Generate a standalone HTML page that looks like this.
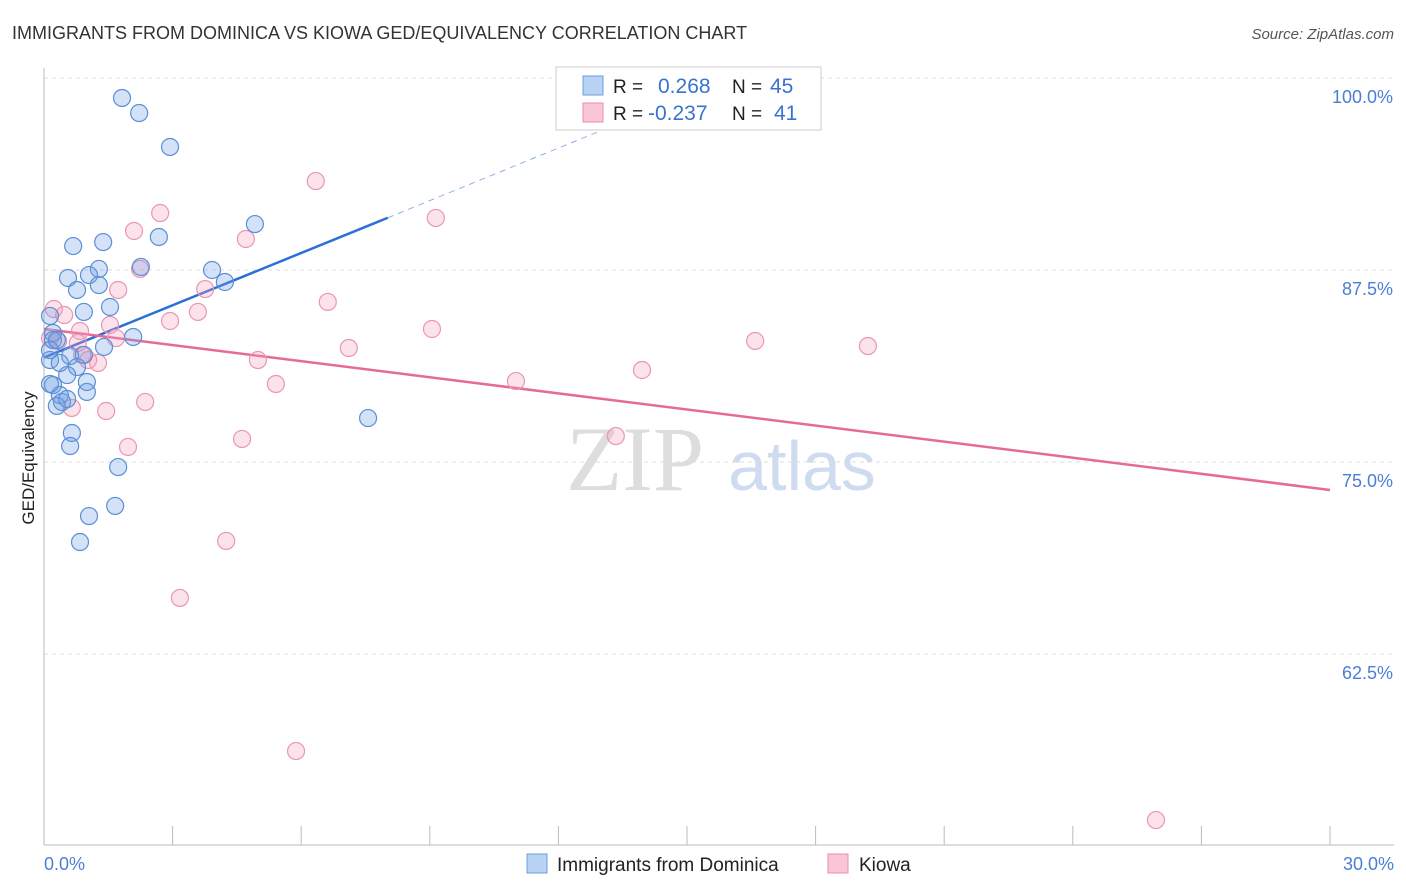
<!DOCTYPE html>
<html><head><meta charset="utf-8"><style>
body{margin:0;background:#fff;font-family:"Liberation Sans",sans-serif}
svg{display:block}
</style></head><body>
<svg id="c" width="1406" height="892" xmlns="http://www.w3.org/2000/svg">
<text x="12" y="39" font-size="18" fill="#333">IMMIGRANTS FROM DOMINICA VS KIOWA GED/EQUIVALENCY CORRELATION CHART</text>
<text x="1394" y="39" font-size="15" fill="#555" font-style="italic" text-anchor="end">Source: ZipAtlas.com</text>
<text x="0" y="0" transform="translate(34,458) rotate(-90)" font-size="17" fill="#222" text-anchor="middle">GED/Equivalency</text>
<g><text x="635" y="490" font-size="92" font-family="Liberation Serif,serif" fill="#ddd" text-anchor="middle">ZIP</text><text x="802" y="490" font-size="70" fill="#cfdcf0" text-anchor="middle">atlas</text></g>
<g id="grid"></g><g id="axes"></g><g id="trend"></g><g id="pts"></g>
<g>
<rect x="556" y="67" width="265" height="63" fill="#fff" stroke="#ccc"/>
<rect x="583" y="76" width="20" height="19" fill="#b9d3f5" stroke="#6c9ddf"/>
<rect x="583" y="103" width="20" height="19" fill="#f9c6d6" stroke="#e98eae"/>
<text x="613" y="93" font-size="19" fill="#222">R =</text><text x="658" y="93" font-size="21" fill="#3a72d0">0.268</text>
<text x="732" y="93" font-size="19" fill="#222">N =</text><text x="770" y="93" font-size="21" fill="#3a72d0">45</text>
<text x="613" y="120" font-size="19" fill="#222">R =</text><text x="648" y="120" font-size="21" fill="#3a72d0">-0.237</text>
<text x="732" y="120" font-size="19" fill="#222">N =</text><text x="774" y="120" font-size="21" fill="#3a72d0">41</text>
</g>
<g>
<rect x="527" y="854" width="20" height="19" fill="#b9d3f5" stroke="#6c9ddf"/>
<text x="557" y="871" font-size="19" fill="#222">Immigrants from Dominica</text>
<rect x="828" y="854" width="20" height="19" fill="#f9c6d6" stroke="#e98eae"/>
<text x="859" y="871" font-size="19" fill="#222">Kiowa</text>
</g>
</svg>
<script>
const yTicks=[100,87.5,75,62.5];
const yTickLabels=["100.0%","87.5%","75.0%","62.5%"];
const blueX=[1.82,2.22,2.94,4.92,2.68,1.38,0.68,2.26,3.92,4.22,1.28,1.05,0.56,0.77,1.28,1.54,0.93,0.14,0.21,2.08,0.21,1.40,0.93,0.61,0.14,0.77,0.54,1.00,0.21,1.00,0.37,0.42,0.30,0.54,7.56,0.65,0.61,1.73,1.66,1.05,0.84,0.14,0.30,0.37,0.14];
const blueY=[98.70,97.72,95.51,90.49,89.65,89.32,89.06,87.70,87.50,86.72,87.57,87.17,86.98,86.20,86.52,85.09,84.77,84.51,83.40,83.14,82.94,82.49,81.97,81.90,81.64,81.18,80.66,80.21,80.01,79.56,79.36,78.91,78.65,79.10,77.86,76.89,76.04,74.67,72.14,71.48,69.79,82.29,82.94,81.45,80.08];
const pinkX=[16.19,6.34,2.71,9.14,2.10,4.71,2.24,1.73,3.76,6.62,0.23,3.59,0.47,2.94,1.54,9.05,0.84,1.68,0.14,16.59,19.22,7.11,0.79,4.99,1.26,1.03,13.95,11.01,5.41,2.36,1.45,0.65,4.62,1.96,13.34,4.25,3.17,5.88,25.94,0.89,0.33];
const pinkY=[99.87,93.29,91.21,90.89,90.04,89.52,87.57,86.20,86.26,85.42,84.96,84.77,84.57,84.18,83.92,83.66,83.53,83.07,83.07,82.88,82.55,82.42,82.75,81.64,81.45,81.64,80.99,80.27,80.08,78.91,78.32,78.52,76.50,75.98,76.69,69.86,66.15,56.18,51.69,81.97,82.88];
const blueTrend=[[0,81.8],[8.02,90.9],[16,100]];
const pinkTrend=[[0,83.66],[30,73.18]];
const NS="http://www.w3.org/2000/svg";
const X=v=>44+v*1286/30, Y=v=>78+(100-v)*15.36;
function mk(t,a,p){const e=document.createElementNS(NS,t);for(const k in a)e.setAttribute(k,a[k]);document.getElementById(p).appendChild(e);return e;}
yTicks.forEach((t,i)=>{
 const g=mk('line',{x1:44,x2:1394,y1:Y(t),y2:Y(t),stroke:'#ddd','stroke-dasharray':'4,4'},'grid');
 
 
 const l=mk('text',{x:1393,y:Y(t)+25,'font-size':18,fill:'#4a7fd4','text-anchor':'end'},'grid');
 l.textContent=yTickLabels[i];
 
 
});
let a=mk('line',{x1:44,x2:44,y1:68,y2:845,stroke:'#bbb'},'axes');


a=mk('line',{x1:44,x2:1394,y1:845,y2:845,stroke:'#bbb'},'axes');


for(let i=1;i<=10;i++){const t=mk('line',{x1:X(i*3),x2:X(i*3),y1:826,y2:845,stroke:'#bbb'},'axes');
 
 }
[["0.0%",44,'start'],["30.0%",1394,'end']].forEach(d=>{const t=mk('text',{x:d[1],y:870,'font-size':18,fill:'#4a7fd4','text-anchor':d[2]},'axes');t.textContent=d[0];
 
 });
function dots(xs,ys,f,s,n){xs.forEach((x,i)=>{const c=mk('circle',{cx:X(x),cy:Y(ys[i]),r:8.5,fill:f,stroke:s,'stroke-width':1.2},'pts');
 
 });}
dots(pinkX,pinkY,'rgba(244,160,190,0.3)','#e996b4','kiowa-point');
dots(blueX,blueY,'rgba(110,160,230,0.3)','#5b8fd6','dominica-point');
let t=mk('line',{x1:X(blueTrend[0][0]),y1:Y(blueTrend[0][1]),x2:X(blueTrend[1][0]),y2:Y(blueTrend[1][1]),stroke:'#2c6fd6','stroke-width':2.5},'trend');


t=mk('line',{x1:X(blueTrend[1][0]),y1:Y(blueTrend[1][1]),x2:X(blueTrend[2][0]),y2:Y(blueTrend[2][1]),stroke:'#8fb0e0','stroke-width':1,'stroke-dasharray':'6,5'},'trend');


t=mk('line',{x1:X(pinkTrend[0][0]),y1:Y(pinkTrend[0][1]),x2:X(pinkTrend[1][0]),y2:Y(pinkTrend[1][1]),stroke:'#e56a98','stroke-width':2.5},'trend');


</script>
</body></html>
